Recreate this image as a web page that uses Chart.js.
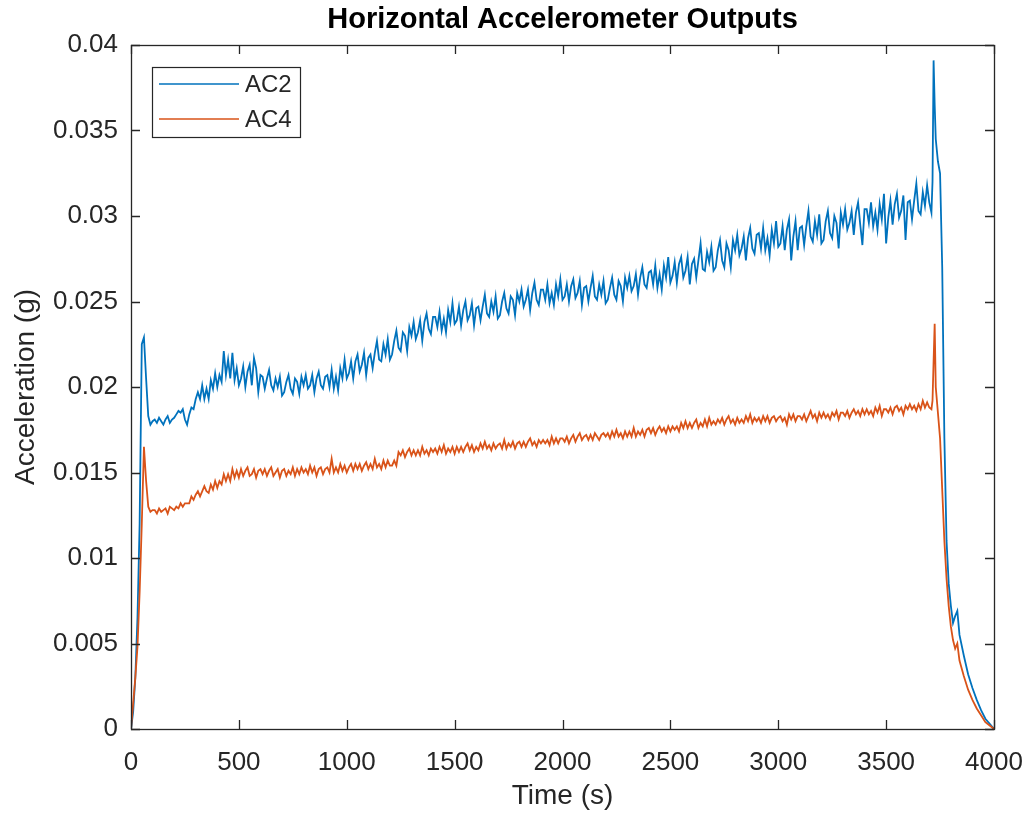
<!DOCTYPE html>
<html>
<head>
<meta charset="utf-8">
<title>Horizontal Accelerometer Outputs</title>
<script src="https://cdn.jsdelivr.net/npm/chart.js@4.4.1/dist/chart.umd.min.js"></script>
<style>
  html, body { margin: 0; padding: 0; background: #fff; }
  #wrap { width: 1028px; height: 815px; }
</style>
</head>
<body>
<div id="wrap"><canvas id="chart" width="1028" height="815"></canvas></div>
<script>
(function () {
    'use strict';

    // ------------------------------------------------------------------
    // Data (time in s, acceleration in g)
    // ------------------------------------------------------------------
    var times = [
        0, 10, 20, 30, 40, 50, 60, 70, 80, 90, 100,
        110, 120, 130, 140, 150, 160, 170, 180, 190, 200,
        210, 220, 230, 240, 250, 260, 270, 280, 290, 300,
        310, 320, 330, 340, 350, 360, 370, 380, 390, 400,
        410, 420, 430, 440, 450, 460, 470, 480, 490, 500,
        510, 520, 530, 540, 550, 560, 570, 580, 590, 600,
        610, 620, 630, 640, 650, 660, 670, 680, 690, 700,
        710, 720, 730, 740, 750, 760, 770, 780, 790, 800,
        810, 820, 830, 840, 850, 860, 870, 880, 890, 900,
        910, 920, 930, 940, 950, 960, 970, 980, 990, 1000,
        1010, 1020, 1030, 1040, 1050, 1060, 1070, 1080, 1090, 1100,
        1110, 1120, 1130, 1140, 1150, 1160, 1170, 1180, 1190, 1200,
        1210, 1220, 1230, 1240, 1250, 1260, 1270, 1280, 1290, 1300,
        1310, 1320, 1330, 1340, 1350, 1360, 1370, 1380, 1390, 1400,
        1410, 1420, 1430, 1440, 1450, 1460, 1470, 1480, 1490, 1500,
        1510, 1520, 1530, 1540, 1550, 1560, 1570, 1580, 1590, 1600,
        1610, 1620, 1630, 1640, 1650, 1660, 1670, 1680, 1690, 1700,
        1710, 1720, 1730, 1740, 1750, 1760, 1770, 1780, 1790, 1800,
        1810, 1820, 1830, 1840, 1850, 1860, 1870, 1880, 1890, 1900,
        1910, 1920, 1930, 1940, 1950, 1960, 1970, 1980, 1990, 2000,
        2010, 2020, 2030, 2040, 2050, 2060, 2070, 2080, 2090, 2100,
        2110, 2120, 2130, 2140, 2150, 2160, 2170, 2180, 2190, 2200,
        2210, 2220, 2230, 2240, 2250, 2260, 2270, 2280, 2290, 2300,
        2310, 2320, 2330, 2340, 2350, 2360, 2370, 2380, 2390, 2400,
        2410, 2420, 2430, 2440, 2450, 2460, 2470, 2480, 2490, 2500,
        2510, 2520, 2530, 2540, 2550, 2560, 2570, 2580, 2590, 2600,
        2610, 2620, 2630, 2640, 2650, 2660, 2670, 2680, 2690, 2700,
        2710, 2720, 2730, 2740, 2750, 2760, 2770, 2780, 2790, 2800,
        2810, 2820, 2830, 2840, 2850, 2860, 2870, 2880, 2890, 2900,
        2910, 2920, 2930, 2940, 2950, 2960, 2970, 2980, 2990, 3000,
        3010, 3020, 3030, 3040, 3050, 3060, 3070, 3080, 3090, 3100,
        3110, 3120, 3130, 3140, 3150, 3160, 3170, 3180, 3190, 3200,
        3210, 3220, 3230, 3240, 3250, 3260, 3270, 3280, 3290, 3300,
        3310, 3320, 3330, 3340, 3350, 3360, 3370, 3380, 3390, 3400,
        3410, 3420, 3430, 3440, 3450, 3460, 3470, 3480, 3490, 3500,
        3510, 3520, 3530, 3540, 3550, 3560, 3570, 3580, 3590, 3600,
        3610, 3620, 3630, 3640, 3650, 3660, 3670, 3680, 3690, 3700,
        3710, 3715, 3720, 3725, 3730, 3740, 3750, 3760, 3770, 3780,
        3790, 3800, 3810, 3820, 3830, 3840, 3860, 3880, 3900, 3920,
        3940, 3960, 3980, 4000
    ];

    var ac2 = [
        0, 0.0010, 0.0030, 0.0065, 0.0120, 0.0225, 0.0229, 0.0205, 0.0183, 0.0178, 0.0180,
        0.0181, 0.0179, 0.0182, 0.0180, 0.0178, 0.0181, 0.0183, 0.0179, 0.0181, 0.0182,
        0.0184, 0.0186, 0.0185, 0.0187, 0.0181, 0.0178, 0.0184, 0.0188, 0.0187, 0.0193,
        0.0197, 0.0193, 0.0201, 0.0193, 0.0199, 0.0193, 0.0204, 0.0199, 0.0208, 0.0200,
        0.0207, 0.0203, 0.0221, 0.0207, 0.0216, 0.0205, 0.0220, 0.0204, 0.0211, 0.0201,
        0.0205, 0.0212, 0.0200, 0.0209, 0.0213, 0.0201, 0.0217, 0.0211, 0.0197, 0.0207,
        0.0206, 0.0199, 0.0205, 0.0210, 0.0201, 0.0198, 0.0205, 0.0200, 0.0206, 0.0195,
        0.0197, 0.0203, 0.0207, 0.0199, 0.0196, 0.0205, 0.0203, 0.0196, 0.0206, 0.0201,
        0.0207, 0.0199, 0.0201, 0.0207, 0.0197, 0.0205, 0.0209, 0.0201, 0.0199, 0.0206,
        0.0207, 0.0200, 0.0210, 0.0199, 0.0206, 0.0198, 0.0211, 0.0205, 0.0216, 0.0205,
        0.0208, 0.0215, 0.0205, 0.0215, 0.0219, 0.0209, 0.0213, 0.0220, 0.0207, 0.0217,
        0.0219, 0.0211, 0.0220, 0.0227, 0.0216, 0.0215, 0.0225, 0.0219, 0.0228, 0.0216,
        0.0219, 0.0227, 0.0233, 0.0223, 0.0221, 0.0232, 0.0230, 0.0221, 0.0235, 0.0230,
        0.0238, 0.0228, 0.0232, 0.0239, 0.0227, 0.0238, 0.0243, 0.0234, 0.0231, 0.0241,
        0.0241, 0.0235, 0.0244, 0.0233, 0.0240, 0.0232, 0.0245, 0.0238, 0.0249, 0.0237,
        0.0239, 0.0247, 0.0236, 0.0245, 0.0250, 0.0239, 0.0242, 0.0249, 0.0236, 0.0246,
        0.0247, 0.0239, 0.0247, 0.0254, 0.0243, 0.0241, 0.0250, 0.0244, 0.0253, 0.0240,
        0.0242, 0.0250, 0.0255, 0.0246, 0.0243, 0.0253, 0.0251, 0.0242, 0.0255, 0.0250,
        0.0257, 0.0247, 0.0251, 0.0257, 0.0245, 0.0255, 0.0261, 0.0251, 0.0248, 0.0257,
        0.0257, 0.0251, 0.0260, 0.0249, 0.0255, 0.0248, 0.0260, 0.0253, 0.0263, 0.0251,
        0.0253, 0.0260, 0.0250, 0.0259, 0.0263, 0.0252, 0.0255, 0.0262, 0.0248, 0.0258,
        0.0259, 0.0250, 0.0258, 0.0265, 0.0253, 0.0251, 0.0260, 0.0254, 0.0262, 0.0249,
        0.0251, 0.0258, 0.0264, 0.0254, 0.0251, 0.0262, 0.0259, 0.0250, 0.0264, 0.0258,
        0.0265, 0.0256, 0.0259, 0.0266, 0.0254, 0.0264, 0.0270, 0.0260, 0.0258, 0.0267,
        0.0268, 0.0260, 0.0271, 0.0258, 0.0266, 0.0257, 0.0271, 0.0264, 0.0276, 0.0261,
        0.0265, 0.0273, 0.0261, 0.0272, 0.0276, 0.0264, 0.0268, 0.0276, 0.0260, 0.0272,
        0.0275, 0.0264, 0.0274, 0.0284, 0.0269, 0.0268, 0.0279, 0.0273, 0.0282, 0.0268,
        0.0270, 0.0280, 0.0286, 0.0274, 0.0270, 0.0284, 0.0280, 0.0270, 0.0286, 0.0280,
        0.0289, 0.0277, 0.0281, 0.0288, 0.0274, 0.0287, 0.0293, 0.0281, 0.0278, 0.0289,
        0.0290, 0.0281, 0.0293, 0.0280, 0.0287, 0.0277, 0.0292, 0.0284, 0.0297, 0.0282,
        0.0284, 0.0294, 0.0280, 0.0292, 0.0298, 0.0274, 0.0288, 0.0297, 0.0280, 0.0293,
        0.0294, 0.0283, 0.0294, 0.0303, 0.0288, 0.0285, 0.0297, 0.0289, 0.0301, 0.0284,
        0.0286, 0.0297, 0.0303, 0.0290, 0.0287, 0.0300, 0.0296, 0.0281, 0.0302, 0.0295,
        0.0304, 0.0292, 0.0296, 0.0303, 0.0289, 0.0302, 0.0308, 0.0295, 0.0283, 0.0304,
        0.0304, 0.0296, 0.0308, 0.0294, 0.0302, 0.0292, 0.0307, 0.0298, 0.0313, 0.0284,
        0.0299, 0.0309, 0.0295, 0.0307, 0.0313, 0.0299, 0.0303, 0.0312, 0.0286, 0.0308,
        0.0309, 0.0298, 0.0309, 0.0319, 0.0303, 0.0301, 0.0314, 0.0306, 0.0318, 0.0308,
        0.0302, 0.0320, 0.0391, 0.0365, 0.0345, 0.0332, 0.0325, 0.0270, 0.0170, 0.0110,
        0.0085, 0.0072, 0.0062, 0.0066, 0.0069, 0.0055, 0.0043, 0.0032, 0.0024, 0.0017,
        0.0011, 0.0006, 0.0003, 0
    ];

    var ac4 = [
        0, 0.0015, 0.0030, 0.0048, 0.0080, 0.0120, 0.0165, 0.0145, 0.0130, 0.0127, 0.0128,
        0.0128, 0.0126, 0.0129, 0.0127, 0.0128, 0.0129, 0.0126, 0.0130, 0.0129, 0.0128,
        0.0130, 0.0129, 0.0132, 0.0130, 0.0132, 0.0132, 0.0132, 0.0136, 0.0134, 0.0137,
        0.0139, 0.0136, 0.0139, 0.0142, 0.0139, 0.0138, 0.0143, 0.0140, 0.0145, 0.0141,
        0.0145, 0.0143, 0.0149, 0.0145, 0.0149, 0.0145, 0.0152, 0.0147, 0.0151, 0.0147,
        0.0152, 0.0148, 0.0151, 0.0153, 0.0148, 0.0149, 0.0152, 0.0147, 0.0151, 0.0152,
        0.0149, 0.0152, 0.0148, 0.0151, 0.0153, 0.0148, 0.0150, 0.0152, 0.0147, 0.0151,
        0.0152, 0.0148, 0.0151, 0.0149, 0.0153, 0.0148, 0.0152, 0.0149, 0.0153, 0.0150,
        0.0152, 0.0149, 0.0154, 0.0150, 0.0153, 0.0148, 0.0152, 0.0153, 0.0149, 0.0152,
        0.0153, 0.0150, 0.0158, 0.0150, 0.0153, 0.0150, 0.0155, 0.0151, 0.0154, 0.0150,
        0.0153, 0.0155, 0.0151, 0.0155, 0.0152, 0.0155, 0.0151, 0.0154, 0.0156, 0.0152,
        0.0155, 0.0152, 0.0158, 0.0153, 0.0155, 0.0152, 0.0157, 0.0153, 0.0157, 0.0154,
        0.0154, 0.0157, 0.0154, 0.0162, 0.0160, 0.0163, 0.0159, 0.0162, 0.0164, 0.0160,
        0.0163, 0.0160, 0.0163, 0.0160, 0.0165, 0.0161, 0.0163, 0.0160, 0.0164, 0.0162,
        0.0164, 0.0161, 0.0165, 0.0162, 0.0166, 0.0161, 0.0164, 0.0162, 0.0165, 0.0161,
        0.0165, 0.0162, 0.0165, 0.0162, 0.0165, 0.0167, 0.0163, 0.0166, 0.0162, 0.0165,
        0.0163, 0.0167, 0.0164, 0.0168, 0.0164, 0.0166, 0.0163, 0.0167, 0.0164, 0.0166,
        0.0167, 0.0164, 0.0169, 0.0164, 0.0167, 0.0165, 0.0168, 0.0164, 0.0167, 0.0168,
        0.0165, 0.0168, 0.0165, 0.0168, 0.0170, 0.0166, 0.0168, 0.0165, 0.0169, 0.0167,
        0.0169, 0.0167, 0.0169, 0.0166, 0.0171, 0.0167, 0.0170, 0.0167, 0.0170, 0.0170,
        0.0168, 0.0171, 0.0167, 0.0170, 0.0172, 0.0168, 0.0171, 0.0173, 0.0169, 0.0171,
        0.0172, 0.0169, 0.0172, 0.0169, 0.0173, 0.0171, 0.0169, 0.0172, 0.0173, 0.0171,
        0.0173, 0.0170, 0.0174, 0.0171, 0.0175, 0.0171, 0.0173, 0.0170, 0.0174, 0.0171,
        0.0174, 0.0171, 0.0176, 0.0171, 0.0174, 0.0172, 0.0175, 0.0171, 0.0175, 0.0176,
        0.0173, 0.0176, 0.0172, 0.0175, 0.0177, 0.0174, 0.0176, 0.0173, 0.0177, 0.0174,
        0.0177, 0.0175, 0.0177, 0.0174, 0.0179, 0.0176, 0.0180, 0.0176, 0.0179, 0.0176,
        0.0179, 0.0181, 0.0176, 0.0179, 0.0177, 0.0181, 0.0177, 0.0182, 0.0178, 0.0180,
        0.0178, 0.0181, 0.0179, 0.0182, 0.0178, 0.0181, 0.0183, 0.0179, 0.0181, 0.0178,
        0.0182, 0.0179, 0.0181, 0.0179, 0.0183, 0.0180, 0.0184, 0.0179, 0.0182, 0.0180,
        0.0182, 0.0179, 0.0183, 0.0180, 0.0183, 0.0179, 0.0182, 0.0183, 0.0180, 0.0182,
        0.0183, 0.0180, 0.0182, 0.0178, 0.0184, 0.0181, 0.0184, 0.0180, 0.0183, 0.0183,
        0.0181, 0.0184, 0.0180, 0.0183, 0.0186, 0.0182, 0.0184, 0.0180, 0.0185, 0.0182,
        0.0185, 0.0182, 0.0184, 0.0181, 0.0185, 0.0183, 0.0186, 0.0181, 0.0185, 0.0185,
        0.0183, 0.0186, 0.0182, 0.0185, 0.0187, 0.0184, 0.0186, 0.0183, 0.0187, 0.0184,
        0.0187, 0.0184, 0.0186, 0.0183, 0.0188, 0.0185, 0.0189, 0.0183, 0.0187, 0.0187,
        0.0185, 0.0188, 0.0184, 0.0188, 0.0189, 0.0186, 0.0188, 0.0184, 0.0189, 0.0187,
        0.0190, 0.0187, 0.0189, 0.0186, 0.0190, 0.0187, 0.0192, 0.0188, 0.0191, 0.0188,
        0.0187, 0.0192, 0.0215, 0.0237, 0.0200, 0.0185, 0.0170, 0.0140, 0.0110, 0.0088,
        0.0072, 0.0060, 0.0052, 0.0047, 0.0050, 0.0040, 0.0031, 0.0023, 0.0017, 0.0012,
        0.0008, 0.0004, 0.0002, 0
    ];

    var xTickLabels = ['0', '500', '1000', '1500', '2000', '2500', '3000', '3500', '4000'];
    var yTickLabels = ['0', '0.005', '0.01', '0.015', '0.02', '0.025', '0.03', '0.035', '0.04'];
    var TITLE = 'Horizontal Accelerometer Outputs';

    var BLUE = '#0072BD';
    var ORANGE = '#D95319';
    var AXIS = '#262626';
    var FONT = '"Liberation Sans", Arial, Helvetica, sans-serif';

    function pairs(xs, ys) {
        return xs.map(function (x, i) { return { x: x, y: ys[i] }; });
    }

    // ------------------------------------------------------------------
    // MATLAB look: title over the axes, boxed axes, inward ticks, legend
    // ------------------------------------------------------------------
    var matlabBox = {
        id: 'matlabBox',
        afterDatasetsDraw: function (chart) {
            var ctx = chart.ctx;
            var a = chart.chartArea;
            var xs = chart.scales.x, ys = chart.scales.y;
            var tick = 9;
            ctx.save();

            ctx.fillStyle = '#000';
            ctx.font = 'bold 29px ' + FONT;
            ctx.textAlign = 'center';
            ctx.textBaseline = 'middle';
            ctx.fillText(TITLE, (a.left + a.right) / 2, 20);

            ctx.strokeStyle = AXIS;
            ctx.lineWidth = 1.3;
            ctx.beginPath();
            xs.ticks.forEach(function (t) {
                var px = Math.round(xs.getPixelForValue(t.value)) + 0.5;
                ctx.moveTo(px, a.bottom); ctx.lineTo(px, a.bottom - tick);
                ctx.moveTo(px, a.top); ctx.lineTo(px, a.top + tick);
            });
            ys.ticks.forEach(function (t) {
                var py = Math.round(ys.getPixelForValue(t.value)) + 0.5;
                ctx.moveTo(a.left, py); ctx.lineTo(a.left + tick, py);
                ctx.moveTo(a.right, py); ctx.lineTo(a.right - tick, py);
            });
            ctx.stroke();
            ctx.strokeRect(Math.round(a.left) + 0.5, Math.round(a.top) + 0.5,
                Math.round(a.right - a.left), Math.round(a.bottom - a.top));

            // legend box, top-left inside the axes
            var lx = 152, ly = 67, lw = 148, lh = 70;
            ctx.fillStyle = '#fff';
            ctx.fillRect(lx, ly, lw, lh);
            ctx.lineWidth = 1.2;
            ctx.strokeRect(lx + 0.5, ly + 0.5, lw, lh);
            ctx.font = '24px ' + FONT;
            ctx.textAlign = 'left';
            chart.data.datasets.forEach(function (ds, i) {
                var rowY = ly + 17 + i * 35;
                ctx.strokeStyle = ds.borderColor;
                ctx.lineWidth = 1.6;
                ctx.beginPath();
                ctx.moveTo(lx + 7, rowY); ctx.lineTo(lx + 87, rowY);
                ctx.stroke();
                ctx.fillStyle = AXIS;
                ctx.fillText(ds.label, lx + 93, rowY + 1);
            });
            ctx.restore();
        }
    };

    new Chart(document.getElementById('chart'), {
        type: 'line',
        data: {
            datasets: [{
                label: 'AC2',
                data: pairs(times, ac2),
                borderColor: BLUE,
                borderWidth: 1.8,
                pointRadius: 0,
                tension: 0,
                order: 1
            }, {
                label: 'AC4',
                data: pairs(times, ac4),
                borderColor: ORANGE,
                borderWidth: 1.8,
                pointRadius: 0,
                tension: 0,
                order: 0
            }]
        },
        options: {
            responsive: false,
            animation: false,
            layout: { padding: { left: 0, right: 34, top: 45, bottom: 0 } },
            plugins: {
                legend: { display: false },
                tooltip: { enabled: false },
                title: { display: false }
            },
            scales: {
                x: {
                    type: 'linear',
                    min: 0,
                    max: 4000,
                    afterFit: function (s) {
                        s.height = 86;
                        s.paddingLeft = 0;
                        s.paddingRight = 0;
                    },
                    afterBuildTicks: function (s) {
                        s.ticks = xTickLabels.map(function (l) { return { value: Number(l) }; });
                    },
                    grid: { display: false },
                    border: { display: false },
                    ticks: {
                        color: AXIS,
                        padding: 10,
                        maxRotation: 0,
                        font: { family: FONT, size: 26 },
                        callback: function (v, i) { return xTickLabels[i]; }
                    },
                    title: {
                        display: true,
                        text: 'Time (s)',
                        color: AXIS,
                        font: { family: FONT, size: 28, lineHeight: 1.2 },
                        padding: { top: 0, bottom: 2 }
                    }
                },
                y: {
                    type: 'linear',
                    min: 0,
                    max: 0.04,
                    afterFit: function (s) {
                        s.width = 131;
                        s.paddingTop = 0;
                        s.paddingBottom = 0;
                    },
                    afterBuildTicks: function (s) {
                        s.ticks = yTickLabels.map(function (l) { return { value: Number(l) }; });
                    },
                    grid: { display: false },
                    border: { display: false },
                    ticks: {
                        color: AXIS,
                        padding: 5,
                        font: { family: FONT, size: 26 },
                        callback: function (v, i) { return yTickLabels[i]; }
                    },
                    title: {
                        display: true,
                        text: 'Acceleration (g)',
                        color: AXIS,
                        font: { family: FONT, size: 28, lineHeight: 1.2 },
                        padding: { top: 9, bottom: 0 }
                    }
                }
            }
        },
        plugins: [matlabBox]
    });
})();
</script>
</body>
</html>
